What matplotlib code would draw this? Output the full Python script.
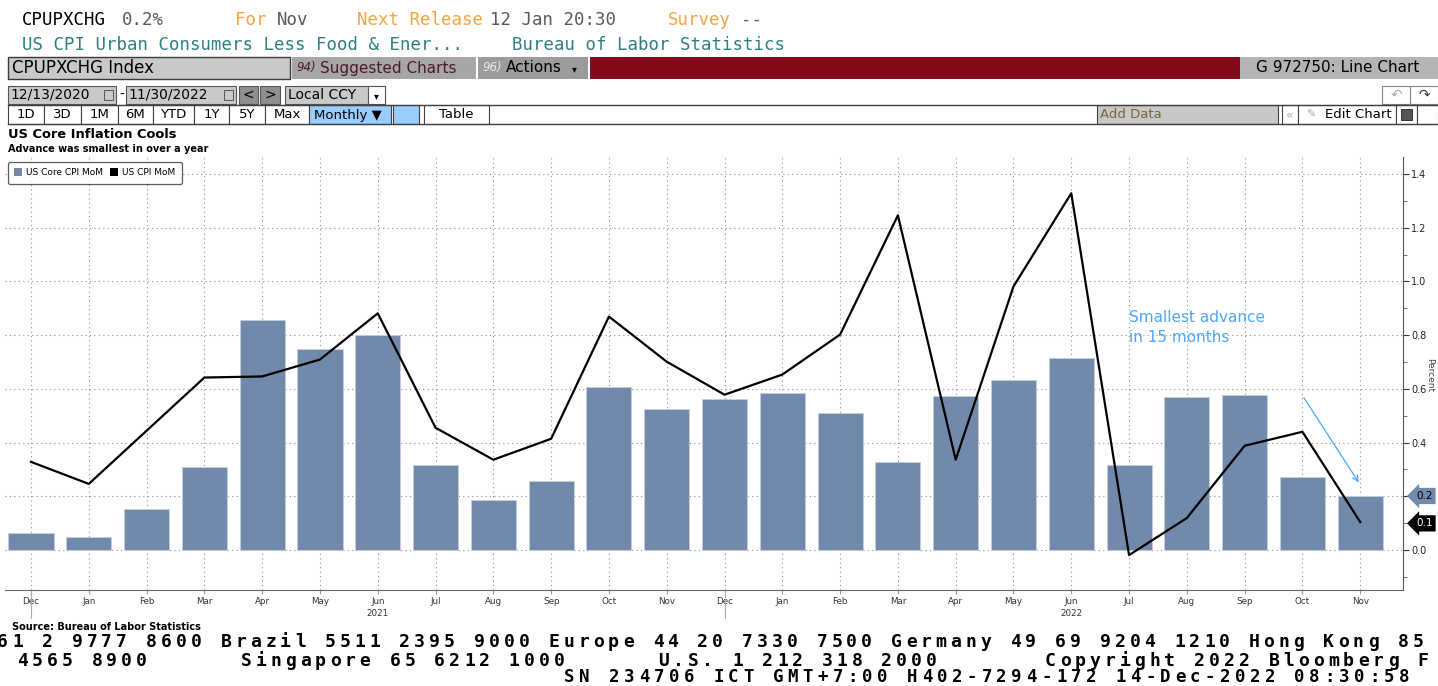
import numpy as np
import matplotlib
matplotlib.use("Agg")
import matplotlib.pyplot as plt
import matplotlib.transforms as mtransforms
from matplotlib.patches import Rectangle, Patch

# ---- data ----
months = ['Dec', 'Jan', 'Feb', 'Mar', 'Apr', 'May', 'Jun', 'Jul', 'Aug', 'Sep', 'Oct', 'Nov',
          'Dec', 'Jan', 'Feb', 'Mar', 'Apr', 'May', 'Jun', 'Jul', 'Aug', 'Sep', 'Oct', 'Nov']
core_cpi_mom = [0.063, 0.049, 0.153, 0.310, 0.858, 0.750, 0.802, 0.317, 0.187, 0.257, 0.608, 0.526,
                0.563, 0.586, 0.511, 0.328, 0.575, 0.634, 0.713, 0.317, 0.571, 0.578, 0.272, 0.201]
cpi_mom = [0.328, 0.246, 0.444, 0.642, 0.646, 0.709, 0.881, 0.455, 0.336, 0.414, 0.869, 0.701,
           0.578, 0.653, 0.802, 1.246, 0.336, 0.981, 1.328, -0.019, 0.119, 0.388, 0.440, 0.104]
year_labels = ['2021', '2022']
y_ticks = [0.0, 0.2, 0.4, 0.6, 0.8, 1.0, 1.2, 1.4]

BAR = '#7189ab'
BLUE_NOTE = '#4da6ff'
MONO = 'DejaVu Sans Mono'

W, H = 1438, 686
fig = plt.figure(figsize=(W / 100, H / 100), dpi=100)
fig.patch.set_facecolor('white')


def fx(x):
    return x / W


def fy(y):
    return 1 - y / H


def box(x0, y0, x1, y1, fc, ec='none', lw=0.8):
    fig.add_artist(Rectangle((fx(x0), fy(y1)), (x1 - x0) / W, (y1 - y0) / H,
                             transform=fig.transFigure, fc=fc, ec=ec, lw=lw))


def hline(x0, x1, y, color='#404040', lw=1.0):
    fig.add_artist(plt.Line2D([fx(x0), fx(x1)], [fy(y), fy(y)], transform=fig.transFigure,
                              color=color, lw=lw))


def txt(x, y, s, **kw):
    kw.setdefault('va', 'center')
    kw.setdefault('ha', 'left')
    return fig.text(fx(x), fy(y), s, **kw)


def mono_row(s, x0, y, pitch=14.9, size=13):
    # bloomberg footer: wide fixed pitch, one glyph per cell
    for i, ch in enumerate(s):
        if ch != ' ':
            fig.text(fx(x0 + (i + 0.5) * pitch), fy(y), ch, ha='center', va='center',
                     family=MONO, weight='bold', fontsize=size, color='black')


# ---- terminal header ----
ORANGE = '#f4a443'
GREY = '#5a5a5a'
TEAL = '#2f7f82'
for s, x, c in [('CPUPXCHG', 22, 'black'), ('0.2%', 122, GREY), ('For', 235, ORANGE),
                ('Nov', 277, GREY), ('Next Release', 357, ORANGE), ('12 Jan 20:30', 490, GREY),
                ('Survey', 668, ORANGE), ('--', 741, GREY)]:
    txt(x, 20, s, family=MONO, fontsize=12.5, color=c)
txt(22, 45, 'US CPI Urban Consumers Less Food & Ener...', family=MONO, fontsize=12.5, color=TEAL)
txt(512, 45, 'Bureau of Labor Statistics', family=MONO, fontsize=12.5, color=TEAL)

box(8, 57, 290, 79, '#c9c9c9', '#3a3a3a', 1.0)
txt(12, 68, 'CPUPXCHG Index', fontsize=12, color='black')
box(292, 57, 476, 79, '#a6a6a6')
txt(296, 68, '94)', fontsize=8.5, color='#4b1a2a', style='italic')
txt(320, 68, 'Suggested Charts', fontsize=11, color='#4b1a2a')
box(478, 57, 588, 79, '#9c9c9c')
txt(482, 68, '96)', fontsize=8.5, color='#e8e8e8', style='italic')
txt(506, 68, 'Actions', fontsize=11, color='black')
txt(572, 69, '\u25be', fontsize=7, color='black')
box(590, 57, 1240, 79, '#840b1b')
box(1240, 57, 1438, 79, '#b4b4b4')
txt(1256, 68, 'G 972750: Line Chart', fontsize=11, color='black')

# date row
box(8, 86, 116, 104, '#c9c9c9', '#555555', 0.8)
txt(10, 95, '12/13/2020', fontsize=10, color='black')
box(104, 90, 113, 100, 'none', '#555555', 0.7)
txt(119, 95, '-', fontsize=10, color='black')
box(126, 86, 236, 104, '#c9c9c9', '#555555', 0.8)
txt(128, 95, '11/30/2022', fontsize=10, color='black')
box(224, 90, 233, 100, 'none', '#555555', 0.7)
box(239, 86, 258, 104, '#8f8f8f', '#555555', 0.8)
txt(248.5, 95, '<', ha='center', fontsize=10, color='black')
box(260, 86, 280, 104, '#8f8f8f', '#555555', 0.8)
txt(270, 95, '>', ha='center', fontsize=10, color='black')
box(285, 86, 385, 104, '#c9c9c9', '#555555', 0.8)
txt(288, 95, 'Local CCY', fontsize=10, color='black')
box(368, 86, 385, 104, 'white', '#555555', 0.8)
txt(376.5, 96, '\u25be', ha='center', fontsize=7, color='black')
box(1382, 86, 1410, 104, 'white', '#888888', 0.8)
txt(1396, 95, '\u21b6', ha='center', fontsize=10, color='#aaaaaa')
box(1410, 86, 1438, 104, 'white', '#888888', 0.8)
txt(1424, 95, '\u21b7', ha='center', fontsize=10, color='#333333')

# range buttons row
hline(8, 1438, 105, '#404040', 1.0)
hline(8, 1438, 124, '#404040', 1.0)
edges = [8, 44, 81, 118, 153, 194, 229, 265, 309]
labels = ['1D', '3D', '1M', '6M', 'YTD', '1Y', '5Y', 'Max']
for i, lab in enumerate(labels):
    box(edges[i], 105, edges[i + 1], 124, 'white', '#404040', 0.8)
    txt((edges[i] + edges[i + 1]) / 2, 115, lab, ha='center', fontsize=9.5, color='black')
box(309, 105, 391, 124, '#99ccff', '#404040', 0.8)
txt(314, 115, 'Monthly \u25bc', fontsize=9.5, color='black')
box(393, 105, 419, 124, '#99ccff', '#404040', 0.8)
box(424, 105, 489, 124, 'white', '#404040', 0.8)
txt(456.5, 115, 'Table', ha='center', fontsize=9.5, color='black')
box(1097, 105, 1278, 124, '#c8c8c8', '#404040', 0.8)
txt(1100, 115, 'Add Data', fontsize=9.5, color='#7d6435')
box(1282, 105, 1298, 124, 'white', '#404040', 0.8)
txt(1290, 115, '\u00ab', ha='center', fontsize=9, color='#aaaaaa')
box(1298, 105, 1396, 124, 'white', '#404040', 0.8)
txt(1306, 115, '\u270e', fontsize=8, color='#aaaaaa')
txt(1325, 115, 'Edit Chart', fontsize=9.5, color='black')
box(1396, 105, 1417, 124, 'white', '#404040', 0.8)
box(1401, 109, 1412, 120, '#555555', '#222222', 0.6)
box(1417, 105, 1438, 124, 'white', '#404040', 0.8)

# chart titles
txt(8, 135, 'US Core Inflation Cools', fontsize=9.4, weight='bold', color='black')
txt(8, 149, 'Advance was smallest in over a year', fontsize=7, weight='bold', color='black')

# ---- the chart ----
ax = fig.add_axes([fx(5), fy(590), (1403 - 5) / W, (590 - 157) / H])
x = np.arange(len(months))
ax.bar(x, core_cpi_mom, width=0.78, color=BAR, edgecolor='#c4cfe0', linewidth=0.6, zorder=2)
ax.plot(x, cpi_mom, color='black', lw=1.6, zorder=3)

ax.set_xlim(-0.45, 23.74)
ax.set_ylim(-0.149, 1.463)
ax.set_axisbelow(True)
for side in ['left', 'top']:
    ax.spines[side].set_visible(False)
ax.spines['right'].set_color('#555555')
ax.spines['bottom'].set_color('#666666')

ax.yaxis.tick_right()
ax.set_yticks(y_ticks)
# 0.2 label sits under the last-value tag, so leave it blank
ax.set_yticklabels(['' if v == 0.2 else '%.1f' % v for v in y_ticks], fontsize=7, color='#222222')
ax.set_yticks(np.arange(-0.1, 1.45, 0.1), minor=True)
ax.tick_params(axis='y', which='major', length=4, color='#333333', pad=2)
ax.tick_params(axis='y', which='minor', length=3, color='#555555')

ax.set_xticks(x)
ax.set_xticklabels(months, fontsize=6.3, color='#333333')
ax.tick_params(axis='x', length=3, color='#999999', pad=2)
ax.grid(True, which='major', ls=(0, (1, 3)), color='#8f8f8f', lw=0.8)

xt = ax.get_xaxis_transform()
for i in [0, 12]:
    ax.plot([i, i], [0, -0.065], transform=xt, color='#aaaaaa', lw=0.8, clip_on=False)
for i, yl in zip([6, 18], year_labels):
    ax.text(i, -0.045, yl, transform=xt, ha='center', va='top', fontsize=6.3, color='#333333')

ax.text(19.0, 0.895, 'Smallest advance\nin 15 months', color=BLUE_NOTE, fontsize=11,
        va='top', ha='left', linespacing=1.45)
ax.annotate('', xy=(23.0, 0.243), xytext=(22.0, 0.575),
            arrowprops=dict(arrowstyle='->', color=BLUE_NOTE, lw=0.9))

# last-value tags on the right
tr = mtransforms.blended_transform_factory(fig.transFigure, ax.transData)
ax.text(fx(1416), core_cpi_mom[-1], '0.2', transform=tr, fontsize=7.5, color='black',
        va='center', ha='left', clip_on=False,
        bbox=dict(boxstyle='larrow,pad=0.3', fc=BAR, ec='none'))
ax.text(fx(1416), cpi_mom[-1] - 0.005, '0.1', transform=tr, fontsize=7.5, color='white',
        va='center', ha='left', clip_on=False,
        bbox=dict(boxstyle='larrow,pad=0.3', fc='black', ec='none'))
txt(1430, 375, 'Percent', rotation=270, ha='center', fontsize=6.5, color='#444444')

leg = ax.legend([Patch(fc=BAR), Patch(fc='black')], ['US Core CPI MoM', 'US CPI MoM'],
                loc='upper left', bbox_to_anchor=(fx(8), fy(162)), bbox_transform=fig.transFigure,
                ncol=2, fontsize=6.5, frameon=True, fancybox=True, edgecolor='#333333',
                handlelength=0.9, handleheight=0.9, handletextpad=0.4, columnspacing=0.8,
                borderpad=0.7, borderaxespad=0)
leg.get_frame().set_linewidth(0.9)

# ---- footer ----
txt(12, 627, 'Source: Bureau of Labor Statistics', weight='bold', fontsize=7, color='black')
mono_row('61 2 9777 8600 Brazil 5511 2395 9000 Europe 44 20 7330 7500 Germany 49 69 9204 1210 '
         'Hong Kong 85', -5, 642)
mono_row('4565 8900      Singapore 65 6212 1000      U.S. 1 212 318 2000       '
         'Copyright 2022 Bloomberg F', 15, 661)
mono_row('SN 234706 ICT GMT+7:00 H402-7294-172 14-Dec-2022 08:30:58', 562, 677, size=12.5)

fig.savefig('out.png', dpi=100)
